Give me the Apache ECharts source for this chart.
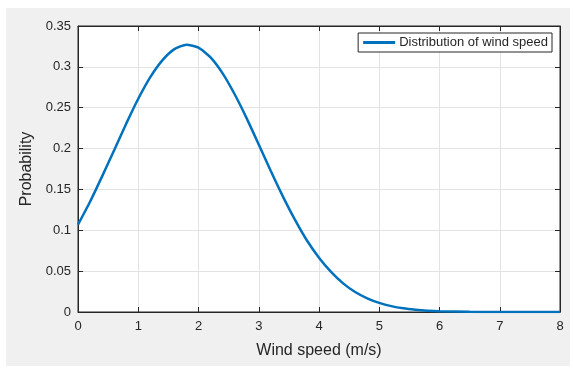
<!DOCTYPE html>
<html>
<head>
<meta charset="utf-8">
<script src="https://cdn.jsdelivr.net/npm/echarts@6/dist/echarts.min.js"></script>
<style>
  html, body { margin: 0; padding: 0; background: #ffffff; }
  #bg { position: absolute; left: 6px; top: 8px; width: 564px; height: 358px; background: #f0f0f0; }
  #chart { position: absolute; left: 0; top: 0; width: 574px; height: 369px; }
</style>
</head>
<body>
<div id="bg"></div>
<div id="chart"></div>
<script>
// Wind speed (m/s) sample points
const windSpeed = [0, 0.2, 0.4, 0.6, 0.8, 1.0, 1.2, 1.4, 1.6, 1.8, 2.0, 2.2, 2.4, 2.6, 2.8, 3.0,
                   3.2, 3.4, 3.6, 3.8, 4.0, 4.2, 4.4, 4.6, 4.8, 5.0, 5.2, 5.4, 5.6, 5.8, 6.0,
                   6.5, 7.0, 7.5, 8.0];
// Probability
const probability = [0.107, 0.135, 0.166, 0.198, 0.2305, 0.261, 0.2875, 0.308, 0.3217, 0.327, 0.3235, 0.3115, 0.292, 0.2665, 0.237, 0.205,
                     0.1725, 0.1415, 0.113, 0.0875, 0.0665, 0.049, 0.035, 0.0245, 0.0168, 0.0112, 0.0072, 0.0045, 0.0028, 0.0016, 0.0009,
                     0.0002, 0.00004, 0.0, 0.0];
const seriesName = 'Distribution of wind speed';
const xTicks = [0, 1, 2, 3, 4, 5, 6, 7, 8];
const yTicks = [0, 0.05, 0.1, 0.15, 0.2, 0.25, 0.3, 0.35];

const chart = echarts.init(document.getElementById('chart'), null, { renderer: 'canvas' });
const axisColor = '#262626';
const labelColor = '#262626';
const font = 'Liberation Sans, Arial, sans-serif';

const points = windSpeed.map((x, i) => [x, probability[i]]);

chart.setOption({
  backgroundColor: 'transparent',
  animation: false,
  grid: {
    left: 78, right: 14, top: 26, bottom: 57,
    show: true, backgroundColor: '#ffffff', borderColor: axisColor, borderWidth: 1
  },
  legend: {
    data: [seriesName],
    right: 22, top: 33,
    backgroundColor: '#ffffff',
    borderColor: axisColor, borderWidth: 1, borderRadius: 0,
    padding: [3, 4, 3, 5],
    icon: 'rect', itemWidth: 32, itemHeight: 3, itemGap: 4,
    textStyle: { fontFamily: font, fontSize: 13, color: labelColor, padding: [0, 0, 0, -1] }
  },
  xAxis: [{
    type: 'value', min: xTicks[0], max: xTicks[xTicks.length - 1], interval: 1,
    position: 'bottom',
    name: 'Wind speed (m/s)', nameLocation: 'middle', nameGap: 31,
    nameTextStyle: { fontFamily: font, fontSize: 16, color: labelColor },
    axisLine: { show: true, onZero: false, lineStyle: { color: axisColor, width: 1 } },
    axisTick: { show: true, inside: true, length: 5, lineStyle: { color: axisColor } },
    axisLabel: { fontFamily: font, fontSize: 13, color: labelColor, margin: 8 },
    splitLine: { show: true, lineStyle: { color: '#e3e3e3', width: 1 } }
  }, {
    type: 'value', min: xTicks[0], max: xTicks[xTicks.length - 1], interval: 1,
    position: 'top',
    axisLine: { show: true, onZero: false, lineStyle: { color: axisColor, width: 1 } },
    axisTick: { show: true, inside: true, length: 5, lineStyle: { color: axisColor } },
    axisLabel: { show: false },
    splitLine: { show: false }
  }],
  yAxis: [{
    type: 'value', min: yTicks[0], max: yTicks[yTicks.length - 1], interval: 0.05,
    position: 'left',
    name: 'Probability', nameLocation: 'middle', nameGap: 42, nameRotate: 90,
    nameTextStyle: { fontFamily: font, fontSize: 16, color: labelColor },
    axisLine: { show: true, onZero: false, lineStyle: { color: axisColor, width: 1 } },
    axisTick: { show: true, inside: true, length: 5, lineStyle: { color: axisColor } },
    axisLabel: { fontFamily: font, fontSize: 13, color: labelColor, margin: 7,
      formatter: v => String(+v.toFixed(2)) },
    splitLine: { show: true, lineStyle: { color: '#e3e3e3', width: 1 } }
  }, {
    type: 'value', min: yTicks[0], max: yTicks[yTicks.length - 1], interval: 0.05,
    position: 'right',
    axisLine: { show: true, onZero: false, lineStyle: { color: axisColor, width: 1 } },
    axisTick: { show: true, inside: true, length: 5, lineStyle: { color: axisColor } },
    axisLabel: { show: false },
    splitLine: { show: false }
  }],
  series: [{
    name: seriesName,
    type: 'line',
    xAxisIndex: 0, yAxisIndex: 0,
    data: points,
    smooth: 0.2,
    showSymbol: false,
    symbol: 'none',
    color: '#0072bd',
    lineStyle: { color: '#0072bd', width: 2.5 }
  }]
});
</script>
</body>
</html>
